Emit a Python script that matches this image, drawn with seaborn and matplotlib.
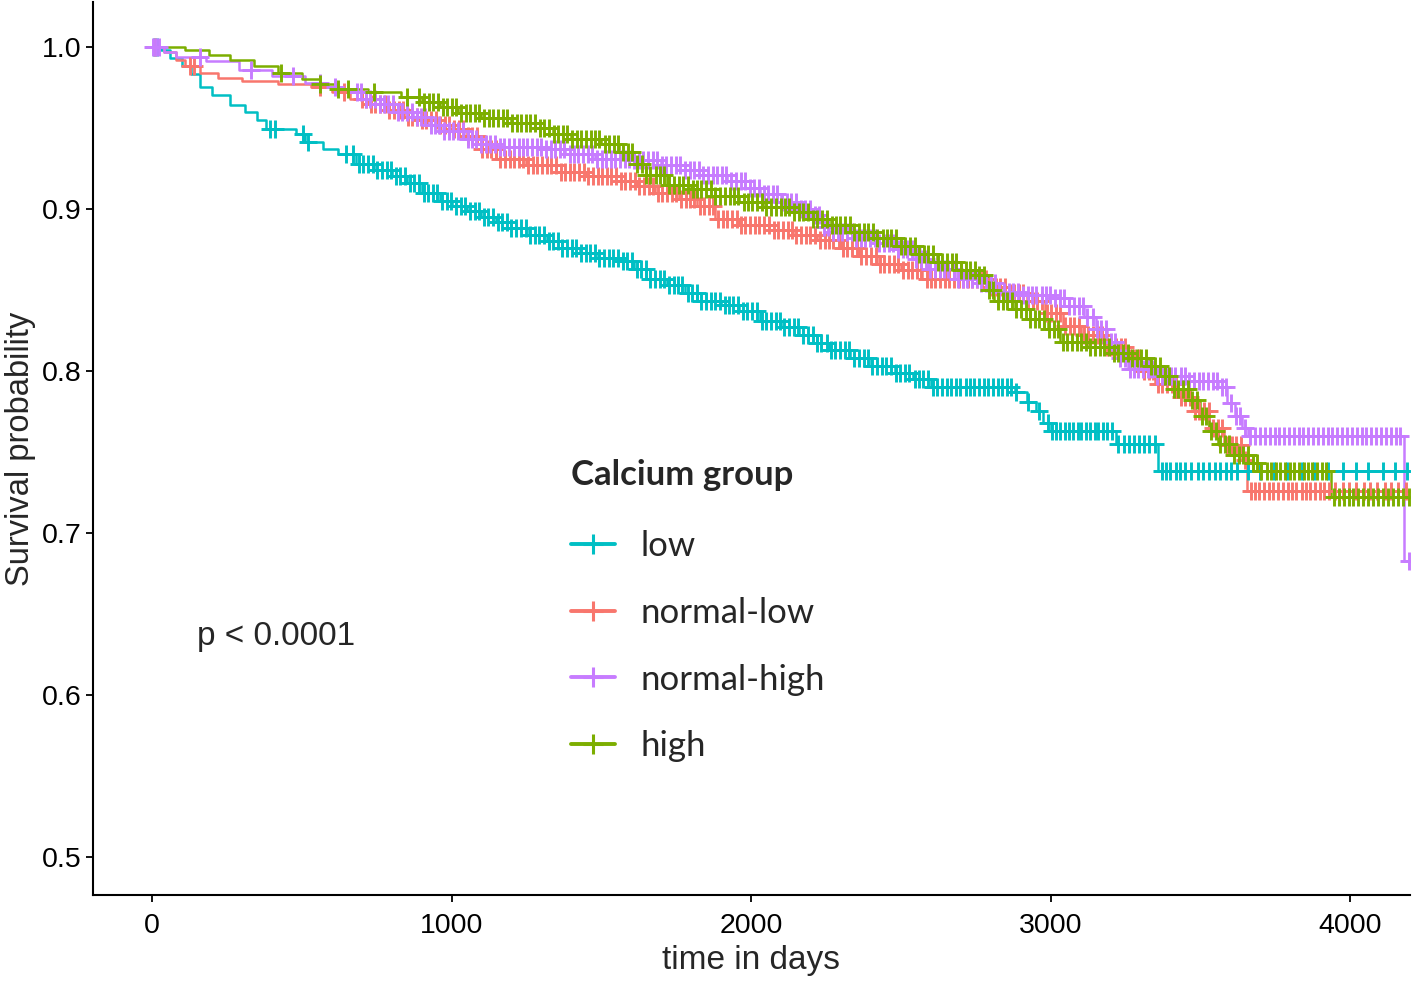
import numpy as np
import pandas as pd
import matplotlib
matplotlib.use("Agg")
import matplotlib.pyplot as plt
from matplotlib.lines import Line2D
import seaborn as sns

groups = ["low", "normal-low", "normal-high", "high"]
colors = ["#00BFC4", "#F8766D", "#C77CFF", "#7CAE00"]

# step curves (time in days, survival after the step)
low_t = [0, 30, 60, 100, 130, 160, 200, 260, 310, 350, 380, 480, 510, 570, 620, 680, 740, 800, 850, 900,
         960, 1000, 1050, 1100, 1150, 1200, 1260, 1320, 1370, 1430, 1490, 1560, 1610, 1650, 1720, 1780,
         1820, 1900, 1960, 2030, 2100, 2160, 2220, 2260, 2330, 2400, 2480, 2540, 2600, 2880, 2920, 2950,
         2975, 3000, 3220, 3360, 4200]
low_s = [1.0, 0.998, 0.993, 0.988, 0.983, 0.975, 0.970, 0.964, 0.960, 0.955, 0.949, 0.946, 0.941, 0.937,
         0.934, 0.928, 0.924, 0.920, 0.916, 0.910, 0.905, 0.902, 0.899, 0.895, 0.892, 0.888, 0.884, 0.880,
         0.876, 0.873, 0.870, 0.868, 0.863, 0.857, 0.853, 0.848, 0.843, 0.841, 0.837, 0.831, 0.827, 0.822,
         0.817, 0.813, 0.808, 0.803, 0.799, 0.795, 0.790, 0.787, 0.781, 0.775, 0.768, 0.763, 0.755, 0.738,
         0.738]

nlow_t = [0, 40, 80, 110, 160, 220, 300, 420, 530, 600, 660, 720, 780, 840, 900, 960, 1000, 1050, 1100,
          1150, 1250, 1350, 1450, 1550, 1620, 1680, 1760, 1820, 1880, 1960, 2060, 2140, 2220, 2300, 2360,
          2420, 2500, 2570, 2800, 2860, 2920, 2980, 3040, 3100, 3180, 3250, 3300, 3350, 3420, 3480, 3530,
          3580, 3640, 3655, 4200]
nlow_s = [1.0, 0.997, 0.992, 0.988, 0.984, 0.981, 0.979, 0.977, 0.975, 0.972, 0.968, 0.965, 0.961, 0.957,
          0.955, 0.952, 0.949, 0.945, 0.937, 0.931, 0.927, 0.923, 0.920, 0.917, 0.914, 0.910, 0.906, 0.902,
          0.894, 0.890, 0.887, 0.884, 0.881, 0.876, 0.871, 0.866, 0.862, 0.857, 0.852, 0.848, 0.843, 0.836,
          0.828, 0.822, 0.815, 0.808, 0.800, 0.792, 0.784, 0.775, 0.765, 0.754, 0.745, 0.726, 0.726]

nhigh_t = [0, 40, 80, 180, 290, 400, 510, 580, 630, 700, 760, 820, 870, 920, 970, 1040, 1100, 1160, 1300,
           1380, 1480, 1600, 1700, 1780, 1840, 1920, 1980, 2030, 2100, 2160, 2200, 2240, 2260, 2350, 2420,
           2480, 2540, 2590, 2680, 2760, 2820, 2900, 3000, 3060, 3110, 3150, 3190, 3230, 3260, 3350, 3450,
           3560, 3590, 3615, 3640, 3660, 4180, 4195]
nhigh_s = [1.0, 0.997, 0.994, 0.991, 0.986, 0.982, 0.978, 0.975, 0.972, 0.968, 0.965, 0.960, 0.957, 0.952,
           0.948, 0.943, 0.940, 0.938, 0.937, 0.934, 0.931, 0.930, 0.927, 0.924, 0.921, 0.917, 0.913, 0.909,
           0.904, 0.900, 0.896, 0.889, 0.886, 0.882, 0.879, 0.875, 0.869, 0.863, 0.857, 0.854, 0.849, 0.847,
           0.845, 0.840, 0.833, 0.826, 0.818, 0.808, 0.801, 0.797, 0.794, 0.790, 0.780, 0.772, 0.765, 0.760,
           0.683, 0.683]

high_t = [0, 110, 190, 260, 340, 420, 500, 560, 620, 720, 830, 900, 960, 1020, 1100, 1200, 1280, 1340,
          1400, 1500, 1560, 1610, 1650, 1720, 1800, 1880, 1960, 2040, 2130, 2200, 2260, 2340, 2420, 2500,
          2560, 2620, 2700, 2760, 2790, 2810, 2880, 2930, 2990, 3030, 3120, 3200, 3260, 3330, 3380, 3410,
          3460, 3500, 3530, 3560, 3600, 3660, 3700, 3935, 4200]
high_s = [1.0, 0.998, 0.995, 0.992, 0.988, 0.984, 0.980, 0.977, 0.974, 0.972, 0.969, 0.966, 0.963, 0.959,
          0.956, 0.953, 0.950, 0.946, 0.943, 0.940, 0.935, 0.928, 0.921, 0.915, 0.912, 0.908, 0.904, 0.901,
          0.898, 0.894, 0.890, 0.886, 0.882, 0.877, 0.872, 0.867, 0.862, 0.859, 0.850, 0.843, 0.838, 0.832,
          0.826, 0.818, 0.815, 0.811, 0.808, 0.803, 0.797, 0.789, 0.782, 0.772, 0.763, 0.755, 0.748, 0.743,
          0.738, 0.722, 0.722]

# censoring times (days)
low_cens = [5, 18, 394, 412, 505, 520, 648, 670,
            690, 705, 722, 737, 751, 768, 783, 798, 814, 829, 846, 860, 875, 892, 907, 921, 938, 953, 968,
            984, 999, 1016, 1030, 1045, 1062, 1077, 1091, 1108, 1123, 1138, 1154, 1169, 1186, 1200, 1215,
            1232, 1247, 1261, 1278, 1293, 1308, 1324, 1339, 1356, 1370, 1385, 1402, 1417, 1431, 1448, 1463,
            1478, 1494, 1509, 1526, 1540, 1555, 1572, 1587, 1601, 1618, 1633, 1648, 1664, 1679, 1696, 1710,
            1725, 1742, 1757, 1771, 1788, 1803, 1818, 1834, 1849, 1866, 1880, 1895, 1912, 1927, 1941, 1958,
            1973, 1988, 2004, 2019, 2036, 2050, 2065, 2082, 2097, 2111, 2128, 2143, 2158, 2174, 2189, 2206,
            2220, 2235, 2252, 2267, 2281, 2298, 2313, 2328, 2344, 2359, 2376, 2390, 2405, 2422, 2437, 2451,
            2468, 2483, 2498, 2514, 2529, 2546, 2560, 2575, 2592, 2607, 2621, 2638, 2653, 2668, 2684, 2699,
            2716, 2730, 2745, 2762, 2777, 2791, 2808, 2823, 2838, 2854, 2869, 2886,
            2925, 2960, 2990, 3004, 3018, 3031, 3047, 3060, 3074, 3090, 3103, 3118, 3132, 3147, 3160, 3176,
            3190, 3204, 3226, 3245, 3262, 3280, 3296, 3312, 3330, 3348, 3372, 3385, 3400, 3418, 3432, 3450,
            3470, 3492, 3510, 3530, 3548, 3566, 3585, 3604, 3622, 3660, 3700, 3745, 3790, 3840, 3880, 3925,
            3975, 4020, 4060, 4110, 4150, 4190]
nlow_cens = [10, 127, 140, 560, 640,
             700, 716, 731, 745, 762, 777, 791, 808, 823, 838, 854, 869, 886, 900, 915, 932, 947, 961, 978,
             993, 1008, 1024, 1039, 1056, 1070, 1085, 1102, 1117, 1131, 1148, 1163, 1178, 1194, 1209, 1226,
             1240, 1255, 1272, 1287, 1301, 1318, 1333, 1348, 1364, 1379, 1396, 1410, 1425, 1442, 1457, 1471,
             1488, 1503, 1518, 1534, 1549, 1566, 1580, 1595, 1612, 1627, 1641, 1658, 1673, 1688, 1704, 1719,
             1736, 1750, 1765, 1782, 1797, 1811, 1828, 1843, 1858, 1874, 1889, 1906, 1920, 1935, 1952, 1967,
             1981, 1998, 2013, 2028, 2044, 2059, 2076, 2090, 2105, 2122, 2137, 2151, 2168, 2183, 2198, 2214,
             2229, 2246, 2260, 2275, 2292, 2307, 2321, 2338, 2353, 2368, 2384, 2399, 2416, 2430, 2445, 2462,
             2477, 2491, 2508, 2523, 2538, 2554, 2569, 2586, 2600, 2615, 2632, 2647, 2661, 2678, 2693, 2708,
             2724, 2739, 2756, 2770, 2785, 2802, 2817, 2831, 2848, 2863, 2878, 2894, 2909, 2926, 2940, 2955,
             2972, 2987, 3001, 3018, 3033, 3048, 3064, 3079, 3096, 3110, 3125, 3142, 3157, 3171, 3188, 3203,
             3218, 3234, 3249, 3266, 3280, 3295, 3312, 3327, 3341, 3358, 3373, 3388, 3404, 3419, 3436, 3450,
             3465, 3482, 3497, 3511, 3528, 3543, 3558, 3574, 3589, 3606, 3620, 3635, 3650,
             3668, 3683, 3697, 3714, 3729, 3744, 3760, 3775, 3792, 3806, 3821, 3838, 3853, 3867, 3884, 3899,
             3914, 3930, 3950, 3975, 3998, 4020, 4045, 4068, 4090, 4115, 4138, 4160, 4185]
nhigh_cens = [2, 12, 24, 160, 330, 470, 560, 610,
              683, 698, 714, 729, 743, 760, 775, 789, 806, 821, 836, 852, 867, 884, 898, 913, 930, 945, 959,
              976, 991, 1006, 1022, 1037, 1054, 1068, 1083, 1100, 1115, 1129, 1146, 1161, 1176, 1192, 1207,
              1224, 1238, 1253, 1270, 1285, 1299, 1316, 1331, 1346, 1362, 1377, 1394, 1408, 1423, 1440, 1455,
              1469, 1486, 1501, 1516, 1532, 1547, 1564, 1578, 1593, 1610, 1625, 1639, 1656, 1671, 1686, 1702,
              1717, 1734, 1748, 1763, 1780, 1795, 1809, 1826, 1841, 1856, 1872, 1887, 1904, 1918, 1933, 1950,
              1965, 1979, 1996, 2011, 2026, 2042, 2057, 2074, 2088, 2103, 2120, 2135, 2149, 2166, 2181, 2196,
              2212, 2227, 2244, 2258, 2273, 2290, 2305, 2319, 2336, 2351, 2366, 2382, 2397, 2414, 2428, 2443,
              2460, 2475, 2489, 2506, 2521, 2536, 2552, 2567, 2584, 2598, 2613, 2630, 2645, 2659, 2676, 2691,
              2706, 2722, 2737, 2754, 2768, 2783, 2800, 2815, 2829, 2846, 2861, 2876, 2892, 2907, 2924, 2938,
              2953, 2970, 2985, 2999, 3016, 3031, 3046, 3062, 3077, 3094, 3108, 3123, 3140, 3155, 3169, 3186,
              3201, 3216, 3232, 3247, 3264, 3278, 3293, 3310, 3325, 3339, 3356, 3371, 3386, 3402, 3417, 3434,
              3448, 3463, 3480, 3495, 3509, 3526, 3541, 3556, 3572, 3587, 3604, 3618, 3633, 3650,
              3667, 3682, 3700, 3716, 3731, 3748, 3763, 3778, 3795, 3812, 3828, 3843, 3860, 3877, 3892, 3908,
              3925, 3940, 3957, 3973, 3990, 4006, 4022, 4039, 4054, 4071, 4088, 4104, 4120, 4137, 4152, 4168,
              4195]
high_cens = [430, 560, 620, 656, 740, 850,
             893, 909, 924, 938, 955, 970, 984, 1001, 1016, 1031, 1047, 1062, 1079, 1093, 1108, 1125, 1140,
             1154, 1171, 1186, 1201, 1217, 1232, 1249, 1263, 1278, 1295, 1310, 1324, 1341, 1356, 1371, 1387,
             1402, 1419, 1433, 1448, 1465, 1480, 1494, 1511, 1526, 1541, 1557, 1572, 1589, 1603, 1618, 1635,
             1650, 1664, 1681, 1696, 1711, 1727, 1742, 1759, 1773, 1788, 1805, 1820, 1834, 1851, 1866, 1881,
             1897, 1912, 1929, 1943, 1958, 1975, 1990, 2004, 2021, 2036, 2051, 2067, 2082, 2099, 2113, 2128,
             2145, 2160, 2174, 2191, 2206, 2221, 2237, 2252, 2269, 2283, 2298, 2315, 2330, 2344, 2361, 2376,
             2391, 2407, 2422, 2439, 2453, 2468, 2485, 2500, 2514, 2531, 2546, 2561, 2577, 2592, 2609, 2623,
             2638, 2655, 2670, 2684, 2701, 2716, 2731, 2747, 2762, 2779, 2793, 2808, 2825, 2840, 2854, 2871,
             2886, 2901, 2917, 2932, 2949, 2963, 2978, 2995, 3010, 3024, 3041, 3056, 3071, 3087, 3102, 3119,
             3133, 3148, 3165, 3180, 3194, 3211, 3226, 3241, 3257, 3272, 3289, 3303, 3318, 3335, 3350, 3364,
             3381, 3396, 3411, 3427, 3442, 3459, 3473, 3488, 3505, 3520, 3534, 3551, 3566, 3581, 3597, 3612,
             3629, 3643, 3658, 3675, 3690, 3704, 3721, 3736, 3751, 3767, 3782, 3799, 3813, 3828, 3845, 3860,
             3874, 3891, 3906, 3921,
             3945, 3962, 3978, 3995, 4011, 4027, 4044, 4060, 4077, 4093, 4110, 4126, 4143, 4160, 4176, 4195]

curves = {"low": (low_t, low_s, low_cens),
          "normal-low": (nlow_t, nlow_s, nlow_cens),
          "normal-high": (nhigh_t, nhigh_s, nhigh_cens),
          "high": (high_t, high_s, high_cens)}

line_rows = []
cens_rows = []
for g in groups:
    t, s, cens = curves[g]
    for ti, si in zip(t, s):
        line_rows.append({"time": ti, "surv": si, "group": g})
    # censor mark sits on the curve value at that time
    idx = np.searchsorted(t, cens, side="right") - 1
    for ci, k in zip(cens, idx):
        cens_rows.append({"time": ci, "surv": s[k], "group": g})
lines_df = pd.DataFrame(line_rows)
cens_df = pd.DataFrame(cens_rows)

sns.set_style("white")
plt.rcParams["font.family"] = ["Liberation Sans", "DejaVu Sans"]

fig = plt.figure(figsize=(14.16, 9.82), dpi=100)
ax = fig.add_axes([93 / 1416, 1 - 895 / 982, (1410 - 93) / 1416, 895 / 982 - 0.002])
palette = dict(zip(groups, colors))

sns.lineplot(data=lines_df, x="time", y="surv", hue="group", palette=palette, drawstyle="steps-post",
             estimator=None, sort=False, linewidth=1.8, legend=False, ax=ax)
for g in groups:
    sub = cens_df[cens_df["group"] == g]
    ax.plot(sub["time"], sub["surv"], linestyle="none", marker="+", markersize=12.5,
            markeredgewidth=2.1, color=palette[g])

ax.set_xlim(-197, 4200)
ax.set_ylim(0.4766, 1.0277)
ax.set_xticks([0, 1000, 2000, 3000, 4000])
ax.set_yticks([0.5, 0.6, 0.7, 0.8, 0.9, 1.0])
ax.set_yticklabels(["0.5", "0.6", "0.7", "0.8", "0.9", "1.0"])
ax.tick_params(axis="both", labelsize=20.5, length=5, width=1.3, color="black", labelcolor="black",
               direction="out", left=True, bottom=True)
ax.tick_params(axis="x", pad=8)
sns.despine(ax=ax)
for sp in ["left", "bottom"]:
    ax.spines[sp].set_linewidth(1.5)
    ax.spines[sp].set_color("black")

ax.set_xlabel("time in days", fontsize=24, labelpad=4)
ax.set_ylabel("Survival probability", fontsize=23.5, labelpad=4)

fig.text(197 / 1416, 1 - 636 / 982, "p < 0.0001", fontsize=24, va="center", ha="left")

handles = [Line2D([0], [0], color=c, marker="+", markersize=14, markeredgewidth=2.2, linewidth=2.8)
           for c in colors]
leg = ax.legend(handles, groups, title="Calcium group", loc="upper left",
                bbox_to_anchor=(540 / 1416, 1 - 428 / 982), bbox_transform=fig.transFigure,
                frameon=False, prop={"family": ["Lato", "DejaVu Sans"], "size": 25},
                title_fontproperties={"family": ["Lato", "DejaVu Sans"], "size": 25, "weight": "bold"},
                handlelength=1.25, handletextpad=0.75, labelspacing=1.0)
leg._legend_box.align = "left"
leg._legend_box.sep = 28

fig.savefig("out.png", dpi=100)
